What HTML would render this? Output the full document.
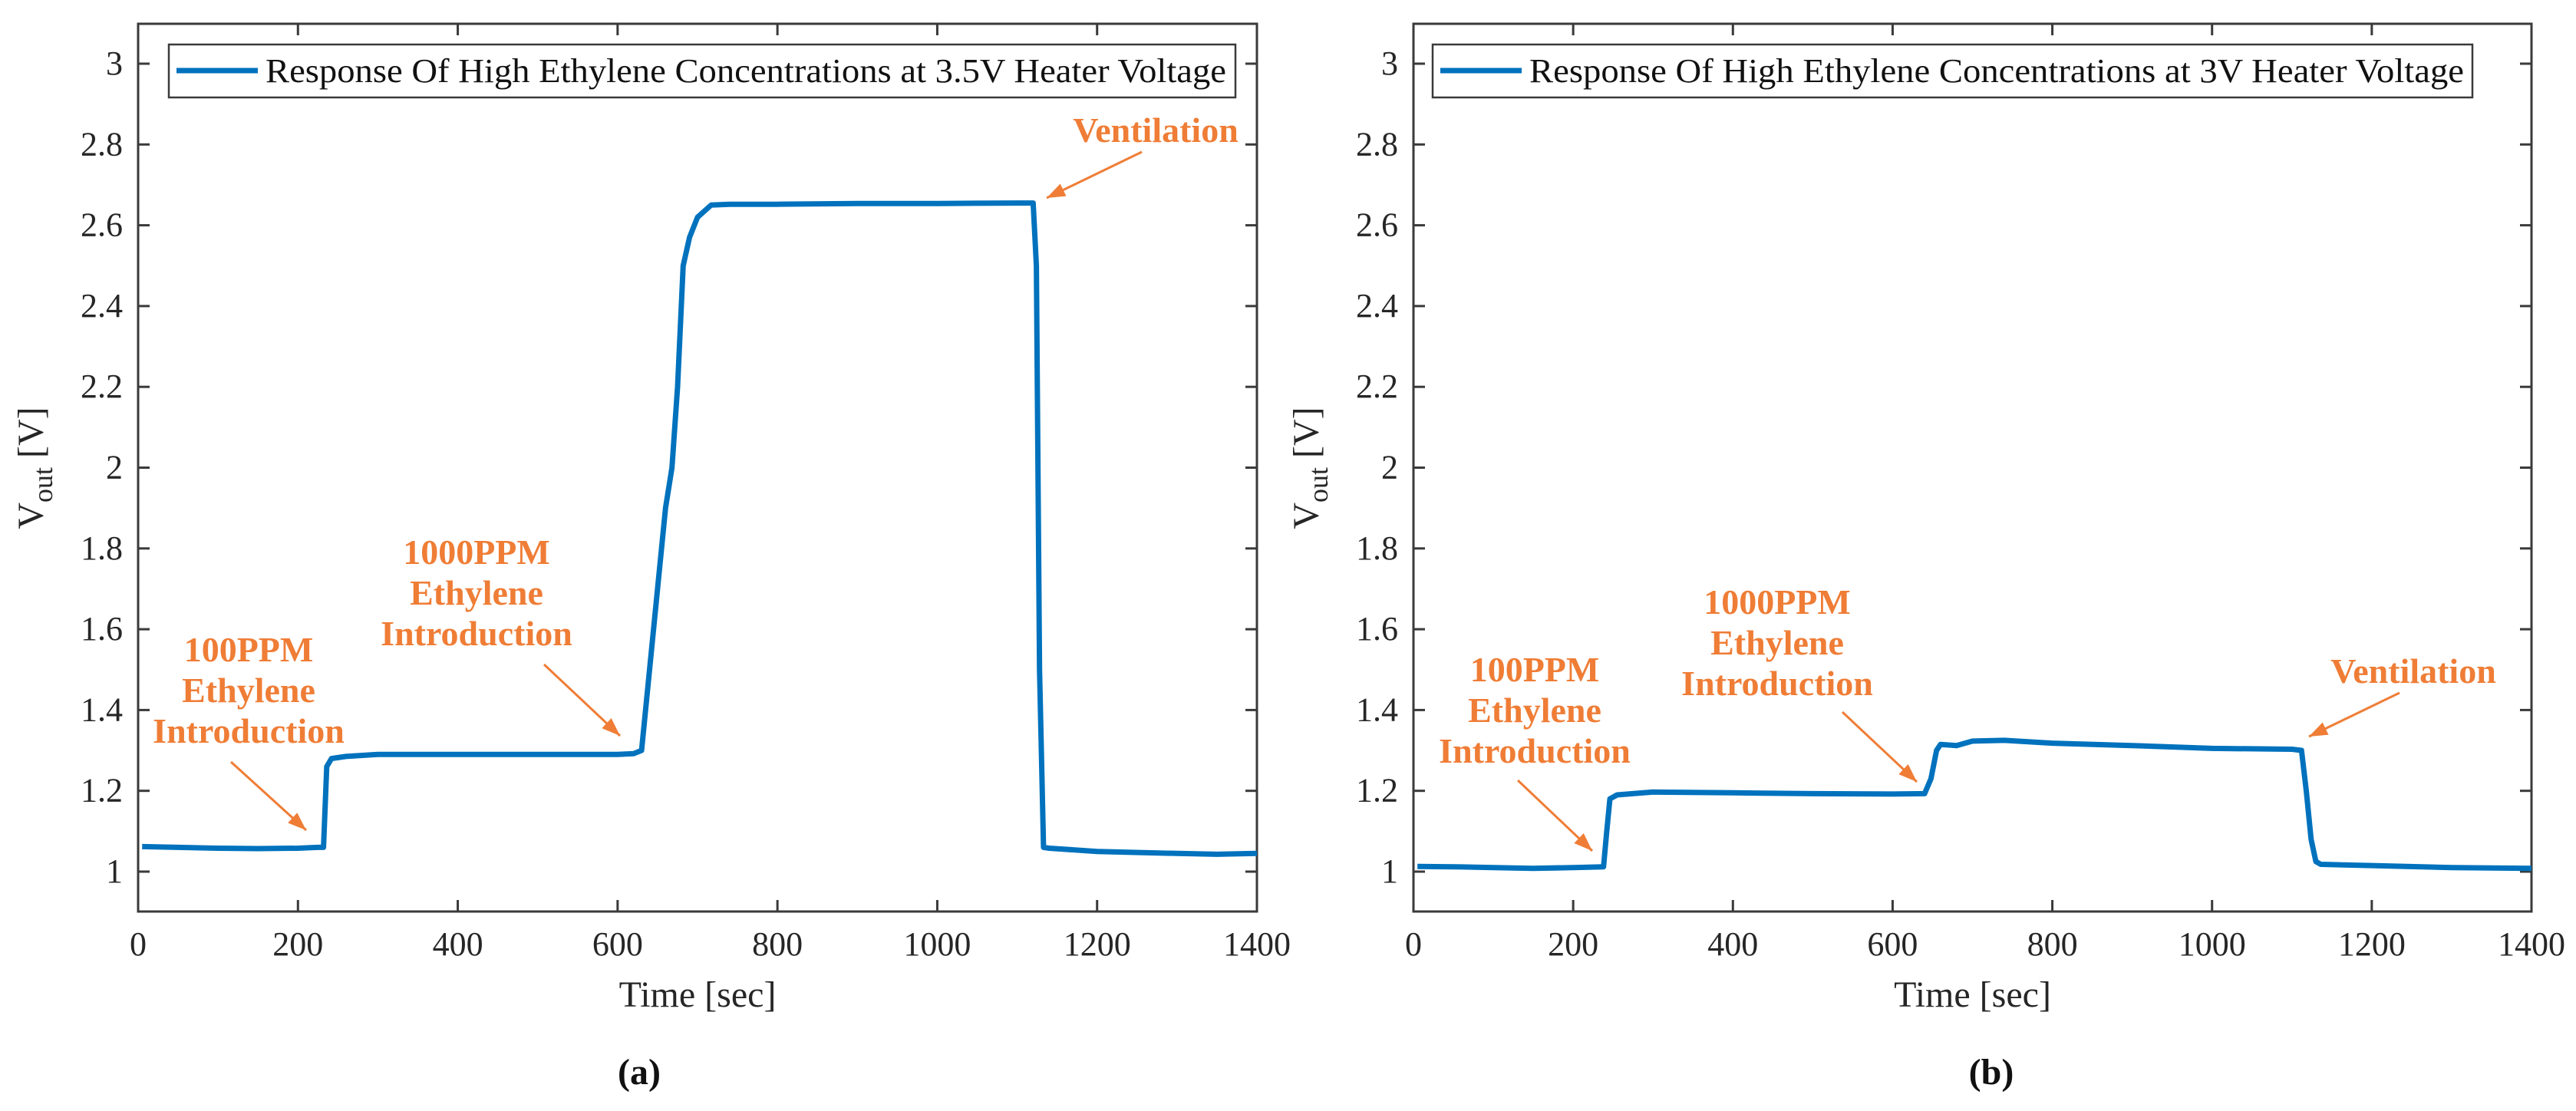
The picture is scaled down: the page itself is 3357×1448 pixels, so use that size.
<!DOCTYPE html>
<html><head><meta charset="utf-8">
<style>
html,body{margin:0;padding:0;background:#fff;}
svg{display:block;}
text{font-family:"Liberation Serif",serif;}
</style></head>
<body>
<svg id="fig" width="3357" height="1448" viewBox="0 0 3357 1448" xmlns="http://www.w3.org/2000/svg"></svg>
<script>
// ---- data ----
const xTicks = [0,200,400,600,800,1000,1200,1400];
const yTicks = [1,1.2,1.4,1.6,1.8,2,2.2,2.4,2.6,2.8,3];
const yTickLabels = ["1","1.2","1.4","1.6","1.8","2","2.2","2.4","2.6","2.8","3"];
const timeA = [5,50,100,150,200,225,232,236,242,260,300,400,500,600,620,630,645,660,668,675,682,690,700,717,740,800,900,1000,1100,1120,1124,1128,1133,1140,1200,1300,1350,1400];
const voltA = [1.062,1.06,1.058,1.057,1.058,1.06,1.06,1.26,1.28,1.285,1.29,1.29,1.29,1.29,1.292,1.30,1.6,1.9,2.0,2.2,2.5,2.57,2.62,2.65,2.652,2.652,2.654,2.654,2.655,2.655,2.5,1.5,1.06,1.058,1.05,1.045,1.043,1.045];
const timeB = [5,50,100,150,200,238,242,246,255,300,400,500,600,640,648,655,660,680,700,740,800,900,1000,1100,1112,1118,1124,1130,1136,1200,1300,1400];
const voltB = [1.013,1.012,1.01,1.008,1.01,1.012,1.1,1.18,1.19,1.197,1.195,1.193,1.192,1.193,1.23,1.3,1.315,1.312,1.323,1.325,1.318,1.312,1.305,1.303,1.30,1.2,1.08,1.025,1.018,1.015,1.01,1.008];
const legendA = "Response Of High Ethylene Concentrations at 3.5V Heater Voltage";
const legendB = "Response Of High Ethylene Concentrations at 3V Heater Voltage";

const NS="http://www.w3.org/2000/svg";
const svg=document.getElementById('fig');
function mk(tag,attrs,parent){const e=document.createElementNS(NS,tag);for(const k in attrs)e.setAttribute(k,attrs[k]);(parent||svg).appendChild(e);return e;}
const ORANGE="#EF7D36", BLUE="#0072BD", AX="#3a3a3a";

function panel(p){
  const g=mk('g',{});
  
  
  const L=p.left,R=p.right,T=31,B=1188;
  const sx=v=>L+(v-0)/(1400-0)*(R-L);
  const sy=v=>1136-(v-1)/0.2*105.3;
  const box=mk('rect',{x:L,y:T,width:R-L,height:B-T,fill:'none',stroke:AX,'stroke-width':3},g);
  
  
  xTicks.forEach((t,i)=>{
    const x=sx(t);
    mk('line',{x1:x,y1:B,x2:x,y2:B-15,stroke:AX,'stroke-width':3},g);
    mk('line',{x1:x,y1:T,x2:x,y2:T+15,stroke:AX,'stroke-width':3},g);
    const tl=mk('text',{x:x,y:1245,'font-size':44,'text-anchor':'middle',fill:'#262626'},g);
    tl.textContent=String(t);
    
    
  });
  yTicks.forEach((t,i)=>{
    const y=sy(t);
    mk('line',{x1:L,y1:y,x2:L+15,y2:y,stroke:AX,'stroke-width':3},g);
    mk('line',{x1:R,y1:y,x2:R-15,y2:y,stroke:AX,'stroke-width':3},g);
    const tl=mk('text',{x:L-20,y:y+14,'font-size':44,'text-anchor':'end',fill:'#262626'},g);
    tl.textContent=yTickLabels[i];
    
    
  });
  const pts=p.t.map((t,i)=>sx(t).toFixed(1)+','+sy(p.v[i]).toFixed(1)).join(' ');
  const line=mk('polyline',{points:pts,fill:'none',stroke:BLUE,'stroke-width':7,'stroke-linejoin':'round'},g);
  
  
  const lg=mk('g',{},g);
  
  
  mk('rect',{x:p.lgx,y:58,width:p.lgw,height:69,fill:'#fff',stroke:AX,'stroke-width':2.5},lg);
  mk('line',{x1:p.lgx+10,y1:92,x2:p.lgx+116,y2:92,stroke:BLUE,'stroke-width':7},lg);
  const lt=mk('text',{x:p.lgx+126,y:107,'font-size':44,fill:'#111',textLength:p.lgtw,lengthAdjust:'spacingAndGlyphs'},lg);
  lt.textContent=p.legend;
  const xl=mk('text',{x:(L+R)/2,y:1312,'font-size':48,'text-anchor':'middle',fill:'#262626'},g);
  xl.textContent='Time [sec]';
  
  
  const yl=mk('text',{x:0,y:0,'font-size':48,'text-anchor':'middle',fill:'#262626',transform:`translate(${L-124},610) rotate(-90)`},g);
  yl.innerHTML='V<tspan dy="12" font-size="36">out</tspan><tspan dy="-12"> [V]</tspan>';
  
  
  const cap=mk('text',{x:p.capx,y:1413,'font-size':48,'font-weight':'bold','text-anchor':'middle',fill:'#111'},g);
  cap.textContent=p.cap;
  
  
  p.ann.forEach(a=>{
    const ag=mk('g',{},g);
    
    
    a.lines.forEach((s,i)=>{
      const t=mk('text',{x:a.x,y:a.y+i*53,'font-size':46,'font-weight':'bold','text-anchor':'middle',fill:ORANGE},ag);
      t.textContent=s;
    });
    const [x1,y1,x2,y2]=a.arrow;
    mk('line',{x1:x1,y1:y1,x2:x2,y2:y2,stroke:ORANGE,'stroke-width':3},ag);
    const ang=Math.atan2(y2-y1,x2-x1),hl=24,hw=9;
    const bx=x2-hl*Math.cos(ang),by=y2-hl*Math.sin(ang);
    const px=-Math.sin(ang)*hw,py=Math.cos(ang)*hw;
    mk('polygon',{points:`${x2},${y2} ${bx+px},${by+py} ${bx-px},${by-py}`,fill:ORANGE},ag);
  });
}

panel({id:'panel-a',left:180,right:1638,t:timeA,v:voltA,lgx:220,lgw:1390,lgtw:1252,legend:legendA,capx:833,cap:'(a)',
  ann:[
    {name:'annotation-100ppm',x:324,y:862,lines:['100PPM','Ethylene','Introduction'],arrow:[301,993,399,1082]},
    {name:'annotation-1000ppm',x:621,y:735,lines:['1000PPM','Ethylene','Introduction'],arrow:[709,866,808,959]},
    {name:'annotation-ventilation',x:1506,y:185,lines:['Ventilation'],arrow:[1488,198,1364,258]}
  ]});
panel({id:'panel-b',left:1842,right:3299,t:timeB,v:voltB,lgx:1867,lgw:1355,lgtw:1218,legend:legendB,capx:2595,cap:'(b)',
  ann:[
    {name:'annotation-100ppm',x:2000,y:888,lines:['100PPM','Ethylene','Introduction'],arrow:[1978,1017,2075,1109]},
    {name:'annotation-1000ppm',x:2316,y:800,lines:['1000PPM','Ethylene','Introduction'],arrow:[2401,928,2498,1019]},
    {name:'annotation-ventilation',x:3145,y:890,lines:['Ventilation'],arrow:[3127,903,3009,960]}
  ]});
</script>
</body></html>
